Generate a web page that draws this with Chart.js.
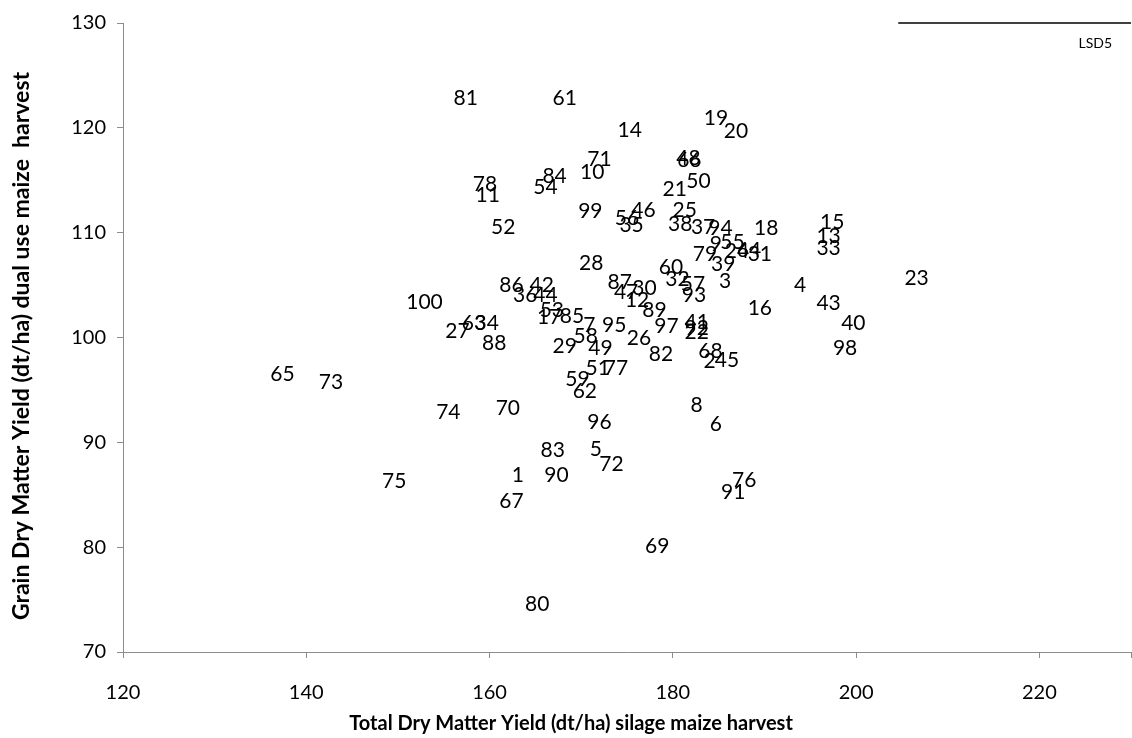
<!DOCTYPE html>
<html>
<head>
<meta charset="utf-8">
<script src="https://cdn.jsdelivr.net/npm/chart.js@4/dist/chart.umd.min.js"></script>
<style>
  html, body { margin: 0; padding: 0; background: #ffffff; }
  #wrap { width: 1132px; height: 738px; }
</style>
</head>
<body>
<div id="wrap"><canvas id="c" width="1132" height="738"></canvas></div>
<script>
// Entry numbers of the hybrids
const entryIds = [
  1, 2, 3, 4, 5, 6, 7, 8, 9, 10,
  11, 12, 13, 14, 15, 16, 17, 18, 19, 20,
  21, 22, 23, 24, 25, 26, 27, 28, 29, 30,
  31, 32, 33, 34, 35, 36, 37, 38, 39, 40,
  41, 42, 43, 44, 45, 46, 47, 48, 49, 50,
  51, 52, 53, 54, 55, 56, 57, 58, 59, 60,
  61, 62, 63, 64, 65, 66, 67, 68, 69, 70,
  71, 72, 73, 74, 75, 76, 77, 78, 79, 80,
  81, 82, 83, 84, 85, 86, 87, 88, 89, 90,
  91, 92, 93, 94, 95, 96, 97, 98, 99, 100
];

// Total dry matter yield, silage maize harvest (dt/ha)
const silageYield = [
  163.1, 184.0, 185.7, 193.9, 171.6, 184.7, 170.9, 182.6, 184.7, 171.2,
  159.8, 176.1, 197.0, 175.3, 197.4, 189.5, 166.5, 190.2, 184.7, 186.9,
  180.2, 182.6, 206.6, 187.0, 181.3, 176.3, 156.5, 171.1, 168.2, 176.9,
  189.5, 180.5, 197.0, 159.7, 175.5, 163.9, 183.3, 180.8, 185.5, 199.7,
  182.6, 165.7, 197.0, 166.1, 185.9, 176.8, 174.9, 181.7, 172.1, 182.8,
  171.8, 161.5, 166.8, 166.1, 186.5, 175.0, 182.2, 170.5, 169.6, 179.8,
  168.2, 170.4, 158.3, 188.3, 137.4, 181.8, 162.4, 184.1, 178.3, 162.0,
  172.0, 173.3, 142.7, 155.5, 149.6, 187.8, 173.8, 159.5, 183.5, 165.2,
  157.4, 178.7, 166.9, 167.1, 169.0, 162.4, 174.2, 160.5, 178.0, 167.3,
  186.6, 182.6, 182.3, 185.2, 173.6, 172.0, 179.3, 198.8, 171.0, 152.9
];

// Grain dry matter yield, dual use maize harvest (dt/ha)
const grainYield = [
  86.9, 97.7, 105.4, 105.0, 89.3, 91.7, 101.2, 93.5, 108.9, 115.8,
  113.6, 103.6, 109.7, 119.8, 111.0, 102.8, 101.9, 110.4, 120.9, 119.7,
  114.1, 100.5, 105.7, 108.2, 112.1, 99.9, 100.6, 107.1, 99.2, 104.7,
  107.9, 105.6, 108.5, 101.4, 110.7, 104.0, 110.5, 110.8, 107.0, 101.4,
  101.5, 105.0, 103.3, 104.0, 97.8, 112.1, 104.3, 117.1, 99.0, 114.9,
  97.1, 110.5, 102.6, 114.3, 109.1, 111.4, 105.1, 100.1, 96.0, 106.7,
  122.8, 94.9, 101.4, 108.3, 96.5, 116.9, 84.4, 98.7, 80.1, 93.3,
  117.0, 87.9, 95.7, 92.9, 86.3, 86.4, 97.1, 114.6, 107.9, 74.6,
  122.8, 98.4, 89.2, 115.4, 102.0, 105.0, 105.3, 99.5, 102.6, 86.9,
  85.2, 100.9, 104.0, 110.4, 101.2, 91.9, 101.1, 99.0, 112.0, 103.4
];

// LSD (5 %) reference bar along the top edge
const lsdX = [204.6, 230];
const lsdY = [130, 130];
const lsdLabel = 'LSD5';

// Axis ranges and tick steps
const xRange = [120, 230];
const xStep = 20;
const yRange = [70, 130];
const yStep = 10;

const xTitle = 'Total Dry Matter Yield (dt/ha) silage maize harvest';
const yTitle = 'Grain Dry Matter Yield (dt/ha) dual use maize  harvest';

const FONT = 'Lato, "Open Sans", sans-serif';
const AXIS_GREY = '#8c8c8c';

const points = silageYield.map((x, i) => ({ x: x, y: grainYield[i] }));
const lsdPoints = lsdX.map((x, i) => ({ x: x, y: lsdY[i] }));

// Writes each entry number centred on its (invisible) point,
// and the LSD caption under the right end of the LSD bar.
const labelPlugin = {
  id: 'entryLabels',
  afterDatasetsDraw(chart) {
    const ctx = chart.ctx;
    ctx.save();
    ctx.fillStyle = '#000000';
    ctx.textAlign = 'center';
    ctx.textBaseline = 'middle';
    ctx.font = '21px ' + FONT;
    chart.getDatasetMeta(0).data.forEach((el, i) => {
      ctx.fillText(String(entryIds[i]), el.x, el.y);
    });
    const lsdMeta = chart.getDatasetMeta(1).data;
    const last = lsdMeta[lsdMeta.length - 1];
    ctx.font = '14px ' + FONT;
    ctx.textAlign = 'right';
    ctx.fillText(lsdLabel, last.x - 19, last.y + 20);
    ctx.restore();
  }
};

// Axis titles
const titlePlugin = {
  id: 'axisTitles',
  afterDraw(chart) {
    const ctx = chart.ctx;
    ctx.save();
    ctx.fillStyle = '#000000';
    ctx.textAlign = 'center';
    ctx.textBaseline = 'middle';
    ctx.font = 'bold 20px ' + FONT;
    ctx.fillText(xTitle, 571, 724);
    ctx.translate(22, 346);
    ctx.rotate(-Math.PI / 2);
    ctx.font = 'bold 23px ' + FONT;
    ctx.fillText(yTitle, 0, 0);
    ctx.restore();
  }
};

new Chart(document.getElementById('c'), {
  type: 'scatter',
  data: {
    datasets: [
      {
        label: 'Entries',
        data: points,
        pointRadius: 0,
        pointHoverRadius: 0,
        showLine: false
      },
      {
        label: lsdLabel,
        data: lsdPoints,
        showLine: true,
        borderColor: '#000000',
        borderWidth: 1.5,
        pointRadius: 0,
        clip: false
      }
    ]
  },
  options: {
    responsive: false,
    animation: false,
    events: [],
    layout: { padding: { top: 23, right: 1, left: 0, bottom: 0 } },
    plugins: {
      legend: { display: false },
      tooltip: { enabled: false }
    },
    scales: {
      x: {
        type: 'linear',
        min: xRange[0],
        max: xRange[1],
        afterFit(scale) {
          scale.height = 86;
          scale.paddingLeft = 0;
          scale.paddingRight = 0;
        },
        border: { display: true, color: AXIS_GREY, width: 1 },
        grid: { display: true, drawOnChartArea: false, drawTicks: true, tickLength: 6, color: AXIS_GREY },
        ticks: {
          stepSize: xStep,
          padding: 23,
          color: '#000000',
          font: { family: FONT, size: 20 },
          maxRotation: 0,
          callback: (v) => (v >= xRange[1] ? '' : v)
        }
      },
      y: {
        type: 'linear',
        min: yRange[0],
        max: yRange[1],
        afterFit(scale) {
          scale.width = 123;
          scale.paddingTop = 0;
          scale.paddingBottom = 0;
        },
        border: { display: true, color: AXIS_GREY, width: 1 },
        grid: { display: true, drawOnChartArea: false, drawTicks: true, tickLength: 6, color: AXIS_GREY },
        ticks: {
          stepSize: yStep,
          padding: 11,
          color: '#000000',
          font: { family: FONT, size: 20 }
        }
      }
    }
  },
  plugins: [labelPlugin, titlePlugin]
});
</script>
</body>
</html>
